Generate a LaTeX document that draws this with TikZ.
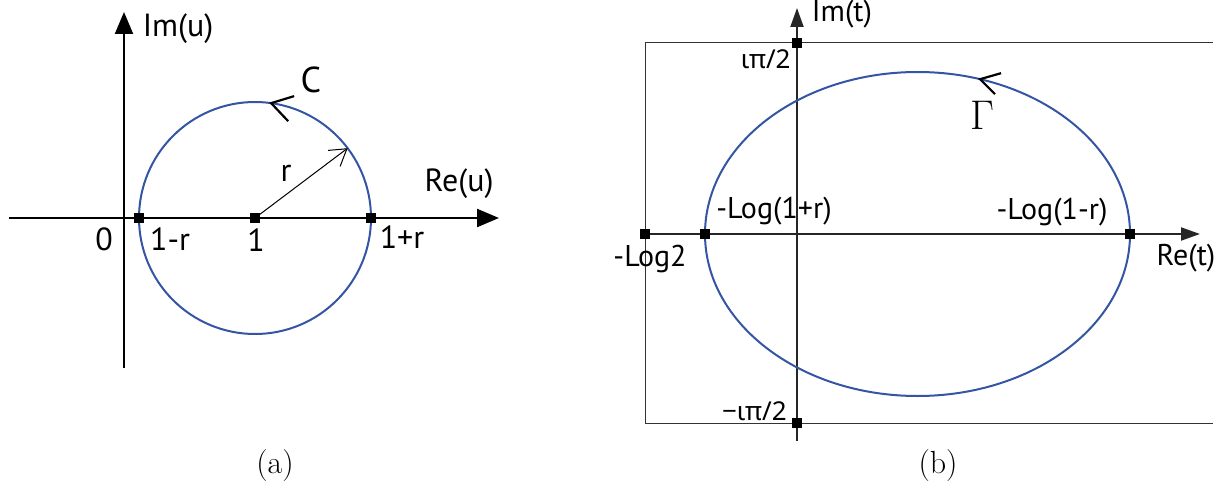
\documentclass[tikz,border=0pt]{standalone}
\usepackage{fontspec}
\setsansfont{PT Sans}
\newfontfamily\grkfont{Noto Sans}
\usetikzlibrary{positioning,arrows.meta,calc,shapes.geometric}
\definecolor{curveblue}{RGB}{52,84,164}

\begin{document}
\begin{tikzpicture}[
  x=0.5pt,y=-0.5pt,
  lbl/.style={font=\sffamily\fontsize{16}{18}\selectfont,inner sep=0pt},
  slbl/.style={font=\sffamily\fontsize{15}{17}\selectfont,inner sep=0pt},
  glbl/.style={font=\grkfont\fontsize{13}{15}\selectfont,inner sep=0pt},
  captxt/.style={font=\fontsize{16}{18}\selectfont,inner sep=0pt},
  dot/.style={rectangle,fill=black,minimum size=5pt,inner sep=0pt},
  axis/.style={-{Triangle[length=11pt,width=9pt]},line width=1.1pt,black},
  taxis/.style={-{Triangle[length=9.5pt,width=6.5pt]},line width=1pt,black!85},
  frame/.style={line width=0.5pt,black!80},
  curve/.style={draw=curveblue,line width=1pt,inner sep=0pt,outer sep=0pt},
  chev/.style={line width=1.1pt,black},
  rad/.style={-{Straight Barb[length=8pt,width=10pt]},line width=0.5pt},
]
\useasboundingbox (0,0) rectangle (1226,492);

% (a) the circle C in the u-plane
\coordinate (ua) at (9,218);
\coordinate (ub) at (499,218);
\coordinate (va) at (124,368);
\coordinate (vb) at (124,12);
\draw[axis] (ua) -- (ub);
\draw[axis] (va) -- (vb);
\node[curve,circle,minimum size=116pt] (C) at (255,218) {};
\node[dot] (m1) at (C.center) {};
\node[dot] (m1r) at (C.west) {};
\node[dot] (m1p) at (C.east) {};
\draw[rad] (m1.center) -- (C.37);
\coordinate (ctip) at (C.82);
\draw[chev] ($(ctip)+(23,-7)$) -- (ctip) -- ($(ctip)+(17,18)$);

\node[lbl] (imu) at (178,29) {Im(u)};
\node[lbl] (reu) at (459,184) {Re(u)};
\node[lbl,font=\sffamily\fontsize{18}{19}\selectfont] (lc) at (311,80) {C};
\node[lbl] (lr) at (286,173) {r};
\node[lbl] (l0) at (104,239) {0};
\node[lbl] (l1r) at (170,239) {1-r};
\node[lbl] (l1) at (256,240) {1};
\node[lbl] (l1p) at (402,237) {1+r};
\node[captxt] (capa) at (275,466) {(a)};

% (b) the curve Gamma in the t-plane
\coordinate (fa) at (1213,43);
\coordinate (fb) at (645,423);
\coordinate (fc) at (1213,423);
\draw[frame] (fa) -| (fb) -- (fc);
\coordinate (ta) at (645,234);
\coordinate (tb) at (1200,234);
\coordinate (sa) at (797,441);
\coordinate (sb) at (797,8);
\draw[taxis] (ta) -- (tb);
\draw[taxis] (sa) -- (sb);
\node[curve,ellipse,minimum width=212.5pt,minimum height=162pt] (G) at (917.5,234) {};
\node[dot] (mtop) at (797,43) {};
\node[dot] (mbot) at (797,423) {};
\node[dot] (mlog2) at (ta) {};
\node[dot] (mlp) at (G.west) {};
\node[dot] (mlm) at (G.east) {};
\coordinate (gtip) at (G.68.7);
\draw[chev] ($(gtip)+(21,-6)$) -- (gtip) -- ($(gtip)+(15,15)$);

\node[slbl] (imt) at (842,14) {Im(t)};
\node[slbl] (ret) at (1186,258) {Re(t)};
\node[glbl,anchor=east] (lpi) at (791,59) {ιπ/2};
\node[glbl,anchor=east] (lmpi) at (787,411) {−ιπ/2};
\node[slbl] (llp) at (774,211) {-Log(1+r)};
\node[slbl] (llm) at (1052,212) {-Log(1-r)};
\node[slbl] (llog2) at (650,259) {-Log2};
\node[inner sep=0pt,font=\fontsize{20}{20}\selectfont] (lg) at (982,115) {$\Gamma$};
\node[captxt] (capb) at (938,466) {(b)};
\end{tikzpicture}
\end{document}
